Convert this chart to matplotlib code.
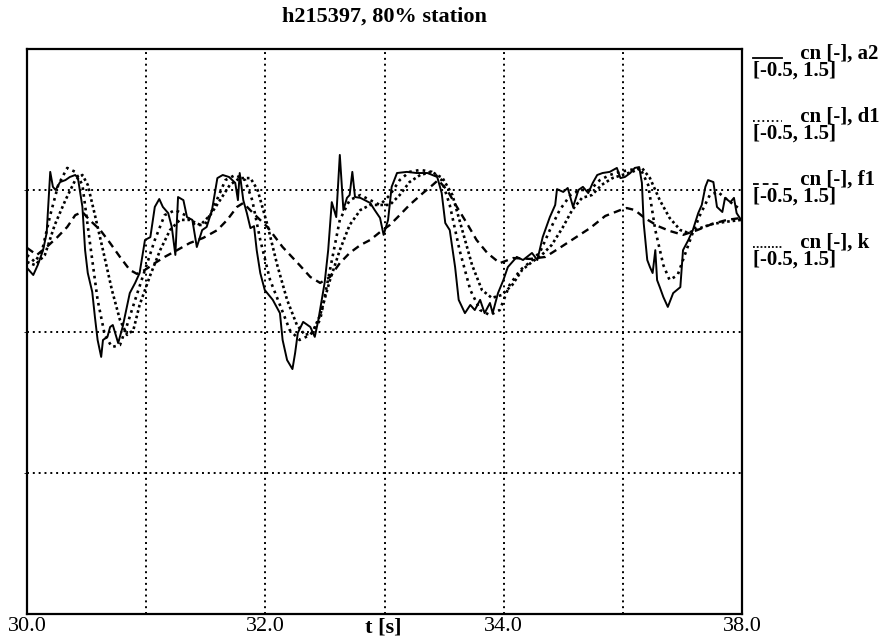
import numpy as np
import matplotlib
matplotlib.use("Agg")
import matplotlib.pyplot as plt
from matplotlib.lines import Line2D

plt.rcParams["font.family"] = ["Liberation Serif", "DejaVu Serif"]

# --- data ---
t_a2 = [30.00, 30.07, 30.12, 30.18, 30.22, 30.26, 30.29, 30.32, 30.37, 30.43, 30.48, 30.54, 30.57,
        30.62, 30.65, 30.68, 30.73, 30.76, 30.79, 30.83, 30.85, 30.90, 30.93, 30.96, 31.02, 31.07,
        31.15, 31.21, 31.26, 31.32, 31.38, 31.43, 31.48, 31.52, 31.58, 31.62, 31.66, 31.69, 31.75,
        31.79, 31.85, 31.90, 31.96, 32.01, 32.07, 32.13, 32.19, 32.26, 32.33, 32.36, 32.38, 32.42,
        32.46, 32.50, 32.54, 32.57, 32.61, 32.66, 32.75, 32.83, 32.86, 32.91, 32.97, 33.00, 33.03,
        33.09, 33.17, 33.22, 33.26, 33.33, 33.37, 33.41, 33.46, 33.50, 33.54, 33.58, 33.61, 33.64,
        33.67, 33.73, 33.78, 33.84, 33.89, 33.95, 33.99, 34.04, 34.08, 34.14, 34.25, 34.36, 34.48,
        34.59, 34.64, 34.68, 34.73, 34.79, 34.83, 34.90, 34.96, 35.01, 35.07, 35.12, 35.18, 35.21,
        35.27, 35.33, 35.38, 35.43, 35.48, 35.55, 35.65, 35.71, 35.77, 35.85, 35.91, 35.93, 36.00,
        36.05, 36.11, 36.17, 36.22, 36.28, 36.33, 36.38, 36.44, 36.52, 36.60, 36.64, 36.69, 36.75,
        36.80, 36.85, 36.88, 36.90, 36.94, 36.97, 37.00, 37.03, 37.05, 37.08, 37.12, 37.17, 37.23,
        37.31, 37.34, 37.40, 37.45, 37.51, 37.55, 37.59, 37.62, 37.68, 37.72, 37.78, 37.81, 37.87,
        37.91, 37.94, 37.99]
cn_a2 = [0.725, 0.700, 0.735, 0.788, 0.849, 1.065, 1.012, 1.001, 1.029, 1.036, 1.047, 1.054, 1.043,
         0.941, 0.788, 0.707, 0.640, 0.551, 0.470, 0.410, 0.470, 0.481, 0.516, 0.523, 0.459, 0.516,
         0.636, 0.672, 0.707, 0.824, 0.834, 0.941, 0.969, 0.941, 0.919, 0.870, 0.771, 0.976, 0.965,
         0.905, 0.895, 0.799, 0.859, 0.870, 0.930, 1.043, 1.054, 1.047, 1.026, 0.965, 1.061, 0.965,
         0.919, 0.866, 0.873, 0.788, 0.707, 0.647, 0.612, 0.565, 0.470, 0.399, 0.367, 0.424, 0.495,
         0.534, 0.516, 0.481, 0.541, 0.672, 0.788, 0.958, 0.905, 1.125, 0.930, 0.973, 0.983, 1.065,
         0.976, 0.973, 0.965, 0.955, 0.930, 0.902, 0.842, 0.895, 1.012, 1.061, 1.065, 1.061, 1.061,
         1.047, 0.990, 0.884, 0.859, 0.728, 0.612, 0.565, 0.594, 0.576, 0.612, 0.565, 0.601, 0.565,
         0.636, 0.682, 0.728, 0.746, 0.764, 0.753, 0.778, 0.753, 0.834, 0.905, 0.948, 1.004, 0.994,
         1.008, 0.941, 1.001, 1.012, 0.990, 1.026, 1.054, 1.061, 1.065, 1.079, 1.043, 1.047, 1.061,
         1.079, 1.082, 1.026, 0.884, 0.753, 0.728, 0.707, 0.788, 0.682, 0.657, 0.622, 0.587, 0.636,
         0.657, 0.788, 0.824, 0.859, 0.919, 0.948, 1.012, 1.036, 1.029, 0.941, 0.923, 0.973, 0.958,
         0.973, 0.919, 0.895]

t_d1 = [30.00, 30.09, 30.17, 30.26, 30.35, 30.45, 30.54, 30.62, 30.70, 30.79, 30.87, 30.95, 31.04,
        31.12, 31.21, 31.32, 31.43, 31.54, 31.66, 31.77, 31.88, 31.99, 32.10, 32.22, 32.33, 32.44,
        32.52, 32.61, 32.72, 32.83, 32.94, 33.05, 33.17, 33.28, 33.39, 33.50, 33.61, 33.73, 33.84,
        33.95, 34.06, 34.17, 34.28, 34.40, 34.53, 34.64, 34.73, 34.84, 34.96, 35.07, 35.18, 35.29,
        35.40, 35.52, 35.63, 35.74, 35.85, 35.96, 36.08, 36.19, 36.30, 36.41, 36.52, 36.63, 36.75,
        36.86, 36.95, 37.03, 37.12, 37.19, 37.28, 37.36, 37.44, 37.53, 37.64, 37.73, 37.84, 37.99]
cn_d1 = [0.771, 0.746, 0.788, 0.912, 1.019, 1.079, 1.065, 1.019, 0.824, 0.612, 0.488, 0.445, 0.452,
         0.523, 0.612, 0.718, 0.824, 0.912, 0.930, 0.912, 0.877, 0.877, 0.948, 1.036, 1.054, 1.036,
         0.965, 0.824, 0.682, 0.594, 0.505, 0.470, 0.488, 0.541, 0.718, 0.895, 0.965, 0.983, 0.965,
         0.948, 0.983, 1.036, 1.065, 1.072, 1.065, 1.036, 0.948, 0.788, 0.647, 0.576, 0.558, 0.576,
         0.665, 0.718, 0.746, 0.781, 0.859, 0.930, 0.983, 1.001, 1.001, 1.036, 1.054, 1.065, 1.072,
         1.079, 1.019, 0.859, 0.735, 0.682, 0.700, 0.771, 0.842, 0.912, 0.983, 0.994, 0.965, 0.930]

t_f1 = [30.00, 30.11, 30.22, 30.34, 30.45, 30.54, 30.62, 30.70, 30.82, 30.93, 31.04, 31.15, 31.23,
        31.32, 31.43, 31.54, 31.68, 31.82, 31.97, 32.13, 32.24, 32.35, 32.42, 32.53, 32.69, 32.86,
        33.05, 33.17, 33.28, 33.39, 33.50, 33.61, 33.73, 33.84, 33.95, 34.06, 34.17, 34.28, 34.43,
        34.54, 34.60, 34.70, 34.81, 34.92, 35.03, 35.15, 35.29, 35.44, 35.63, 35.80, 35.96, 36.13,
        36.30, 36.47, 36.64, 36.71, 36.80, 36.91, 37.06, 37.19, 37.34, 37.50, 37.66, 37.83, 37.99]
cn_f1 = [0.796, 0.771, 0.799, 0.834, 0.870, 0.912, 0.923, 0.895, 0.859, 0.813, 0.764, 0.718, 0.704,
         0.718, 0.742, 0.764, 0.788, 0.813, 0.831, 0.859, 0.895, 0.941, 0.955, 0.919, 0.870, 0.799,
         0.735, 0.693, 0.672, 0.693, 0.742, 0.778, 0.806, 0.824, 0.852, 0.877, 0.912, 0.948, 0.990,
         1.019, 1.036, 1.001, 0.941, 0.884, 0.824, 0.778, 0.742, 0.760, 0.757, 0.764, 0.796, 0.831,
         0.866, 0.909, 0.930, 0.937, 0.930, 0.902, 0.873, 0.856, 0.842, 0.859, 0.880, 0.895, 0.902]

t_k = [30.00, 30.09, 30.20, 30.31, 30.43, 30.54, 30.62, 30.68, 30.76, 30.85, 30.95, 31.04, 31.12,
       31.19, 31.26, 31.38, 31.49, 31.60, 31.71, 31.82, 31.94, 32.05, 32.16, 32.27, 32.38, 32.50,
       32.58, 32.69, 32.80, 32.91, 33.02, 33.11, 33.19, 33.28, 33.39, 33.50, 33.61, 33.73, 33.84,
       33.95, 34.06, 34.17, 34.28, 34.40, 34.53, 34.65, 34.76, 34.87, 34.98, 35.09, 35.20, 35.31,
       35.43, 35.54, 35.65, 35.76, 35.87, 35.99, 36.10, 36.21, 36.32, 36.43, 36.55, 36.66, 36.77,
       36.88, 36.97, 37.08, 37.19, 37.31, 37.40, 37.53, 37.66, 37.81, 37.99]
cn_k = [0.746, 0.735, 0.771, 0.877, 0.965, 1.036, 1.054, 1.019, 0.912, 0.788, 0.647, 0.541, 0.488,
        0.505, 0.594, 0.700, 0.788, 0.859, 0.895, 0.895, 0.877, 0.912, 0.965, 1.019, 1.043, 1.043,
        1.001, 0.877, 0.735, 0.612, 0.523, 0.488, 0.495, 0.558, 0.682, 0.788, 0.877, 0.930, 0.948,
        0.948, 0.948, 0.983, 1.029, 1.054, 1.065, 1.043, 0.983, 0.859, 0.735, 0.647, 0.619, 0.629,
        0.665, 0.718, 0.746, 0.771, 0.806, 0.866, 0.930, 0.973, 0.983, 1.019, 1.043, 1.054, 1.065,
        1.079, 1.043, 0.965, 0.902, 0.859, 0.849, 0.866, 0.880, 0.888, 0.895]

series_names = ["a2", "d1", "f1", "k"]
series_styles = ["-", (0, (1, 1.6)), (0, (3.2, 2.2)), (0, (1, 1.1))]
series_widths = [1.4, 1.9, 1.7, 1.9]

xtick_vals = [30.0, 30.0 + 8 / 3, 30.0 + 16 / 3, 38.0]
xtick_labels = ["30.0", "32.0", "34.0", "38.0"]

W, H = 896, 642
fig = plt.figure(figsize=(W / 100, H / 100), dpi=100)
ax = fig.add_axes([27 / W, 28 / H, 715 / W, 565 / H])

data = [(t_a2, cn_a2), (t_d1, cn_d1), (t_f1, cn_f1), (t_k, cn_k)]
for (t, v), ls, lw in zip(data, series_styles, series_widths):
    ax.plot(t, v, color="black", linestyle=ls, linewidth=lw)

ax.set_xlim(30, 38)
ax.set_ylim(-0.5, 1.5)
ax.xaxis.remove_overlapping_locs = False
ax.set_xticks(np.linspace(30, 38, 7)[1:-1], minor=True)
ax.set_yticks([0.0, 0.5, 1.0], minor=True)
ax.set_xticks(xtick_vals)
ax.set_xticklabels(xtick_labels, fontsize=16)
ax.set_yticks([])
ax.tick_params(axis="x", which="both", length=0, pad=2)
ax.grid(which="minor", color="black", linestyle=(0, (1, 2)), linewidth=1.4)
for s in ax.spines.values():
    s.set_linewidth(1.6)

ax.set_xlabel("t [s]", fontsize=16, fontweight="bold")
ax.xaxis.set_label_coords(0.498, -0.006)
ax.xaxis.label.set_va("top")

fig.text(384 / W, 1 - 17 / H, "h215397, 80% station", ha="center", va="center",
         fontsize=16, fontweight="bold")

# right-hand legend: sample line over the range, label beside it
for i, (name, ls) in enumerate(zip(series_names, series_styles)):
    yc = 55 + 63 * i
    fig.text(753 / W, 1 - (yc + 7) / H, f"         cn [-], {name}\n[-0.5, 1.5]",
             ha="left", va="center", fontsize=15, fontweight="bold",
             linespacing=0.8, multialignment="left")
    fig.add_artist(Line2D([753 / W, 782 / W], [1 - (yc + 3) / H] * 2,
                          transform=fig.transFigure, color="black",
                          linestyle=ls, linewidth=1.3))

fig.savefig("out.png", dpi=100)
